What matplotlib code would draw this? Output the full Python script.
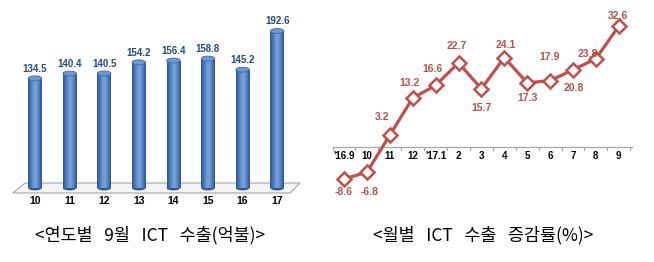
import numpy as np
import matplotlib
matplotlib.use("Agg")
import matplotlib.pyplot as plt
from matplotlib.patches import Ellipse, Polygon
from matplotlib.colors import LinearSegmentedColormap

# 연도별 9월 ICT 수출(억불)
years = ["10", "11", "12", "13", "14", "15", "16", "17"]
exports = [134.5, 140.4, 140.5, 154.2, 156.4, 158.8, 145.2, 192.6]

# 월별 ICT 수출 증감률(%)
months = ["'16.9", "10", "11", "12", "'17.1", "2", "3", "4", "5", "6", "7", "8", "9"]
growth = [-8.6, -6.8, 3.2, 13.2, 16.6, 22.7, 15.7, 24.1, 17.3, 17.9, 20.8, 23.8, 32.6]
# label offsets (pixels)
lab_off = [(0, -13), (3, -20), (-8, 18), (-3, 15), (-3, 16), (-2, 17), (0, -19),
           (1, 13), (0, -15), (-1, 24), (1, -18), (-8, 5), (-1, 10)]

W, H = 654, 262
fig = plt.figure(figsize=(W / 100, H / 100), dpi=100)
fig.patch.set_facecolor("white")

def px_axes(x0, y0, x1, y1):
    # pixel box (top-left origin) -> axes
    return fig.add_axes([x0 / W, 1 - y1 / H, (x1 - x0) / W, (y1 - y0) / H])

num_font = "Liberation Sans"

# ---------------- left: bars ----------------
ax = px_axes(5, 5, 310, 205)
step = 34.6
ax.set_xlim((5 - 35) / step, (310 - 35) / step)
sc = 0.815
ax.set_ylim(-(205 - 188) / sc, (188 - 5) / sc)
ax.axis("off")

# floor
floor = Polygon([(-0.64, -6.1), (-0.29, 6.1), (7.66, 6.1), (7.37, -6.1)],
                closed=True, facecolor="#f4f4f4", edgecolor="#a6a6a6", lw=0.8, zorder=1)
ax.add_patch(floor)

x = np.arange(len(years))
bw = 0.39
bars = ax.bar(x, exports, width=bw, color="#4a78b8", zorder=2)
cmap = LinearSegmentedColormap.from_list("cyl", ["#2d5592", "#4f80c0", "#80a4d8", "#5a88c6", "#2b5190"])
grad = np.linspace(0, 1, 64).reshape(1, -1)
for b, v in zip(bars, exports):
    im = ax.imshow(grad, cmap=cmap, aspect="auto", zorder=3,
                   extent=(b.get_x(), b.get_x() + bw, 0, v))
    im.set_clip_path(b)
    ax.add_patch(Ellipse((b.get_x() + bw / 2, 0), bw, 6, facecolor="#2f5896", zorder=2.5))
    ax.add_patch(Ellipse((b.get_x() + bw / 2, v), bw, 6, facecolor="#6f98d2",
                         edgecolor="#3e6aa8", lw=0.6, zorder=4))
    ax.text(b.get_x() + bw / 2, v + 12, f"{v:.1f}", ha="center", va="center",
            fontsize=7, fontweight="bold", color="#244a80", family=num_font, zorder=5)
for i, t in enumerate(years):
    ax.text(i, -16, t, ha="center", va="center", fontsize=7.5, fontweight="bold",
            color="black", family=num_font)

# ---------------- right: line ----------------
ax2 = px_axes(325, 5, 650, 205)
step2 = 22.9
ax2.set_xlim((325 - 344) / step2, (650 - 344) / step2)
sc2 = 3.71
ax2.set_ylim(-(205 - 147) / sc2, (147 - 5) / sc2)
ax2.axis("off")

ax2.plot([-0.48, 12.58], [0, 0], color="#a6a6a6", lw=0.9, zorder=1)
for b in np.arange(-0.5, 12.6, 1.0):
    ax2.plot([b, b], [0, -0.7], color="#a6a6a6", lw=0.8, zorder=1)

xm = np.arange(len(months))
red = "#c0504d"
ax2.plot(xm, growth, color=red, lw=2.3, marker="D", markersize=7,
         markerfacecolor="white", markeredgecolor=red, markeredgewidth=1.8, zorder=3)
for i, t in enumerate(months):
    ax2.text(i, -2.5, t, ha="center", va="center", fontsize=7, fontweight="bold",
             color="black", family=num_font, zorder=2)
for i, v in enumerate(growth):
    dx, dy = lab_off[i]
    ax2.annotate(f"{v:.1f}", (i, v), xytext=(dx, dy), textcoords="offset pixels",
                 ha="center", va="center", fontsize=7.5, fontweight="bold",
                 color="#b9504a", family=num_font, zorder=4)

# captions
cap_font = ["Noto Sans CJK KR", "DejaVu Sans"]
fig.text(150 / W, 1 - 235 / H, "<연도별   9월   ICT   수출(억불)>", ha="center", va="center",
         fontsize=12.5, family=cap_font)
fig.text(483 / W, 1 - 235 / H, "<월별   ICT   수출   증감률(%)>", ha="center", va="center",
         fontsize=12.5, family=cap_font)

fig.savefig("out.png", dpi=100, facecolor="white")
